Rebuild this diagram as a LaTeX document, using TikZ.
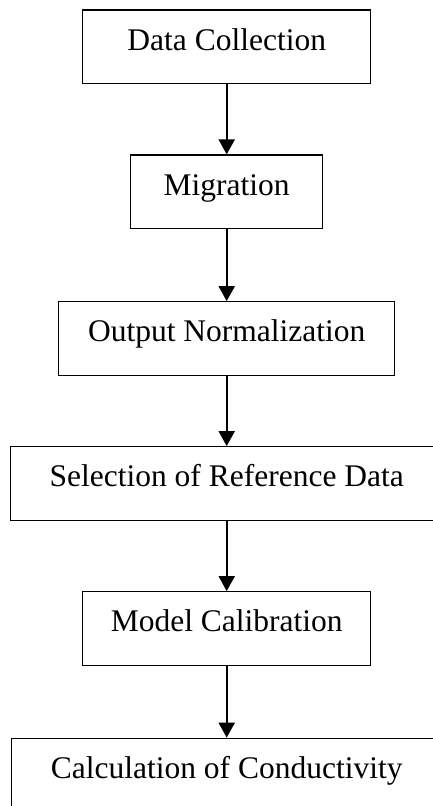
\documentclass[tikz,border=0pt]{standalone}
\usepackage{fontspec}
\setmainfont{Liberation Serif}
\usetikzlibrary{arrows.meta}
\begin{document}
\begin{tikzpicture}[x=1pt, y=-1pt,
    stepbox/.style={draw, line width=1.2pt, inner sep=0pt, text height=40pt, text depth=33.5pt,
        font=\fontsize{31.5}{36}\selectfont},
    flow/.style={-{Triangle[width=16pt,length=15pt]}, line width=2pt}]
            \useasboundingbox (0,0) rectangle (432,806);
            \foreach \name/\w/\y/\txt in {collect/288/46.75/Data Collection, migr/192/191.75/Migration, norm/336/338.45/Output Normalization, refdata/432/483.45/Selection of Reference Data, calib/288/628.45/Model Calibration, cond/431/775/Calculation of Conductivity}{
                \node[stepbox, minimum width=\w pt] (\name) at (226.7,\y) {\txt};
            }
            \foreach \a/\b in {collect/migr, migr/norm, norm/refdata, refdata/calib, calib/cond}{
                \draw[flow] (\a) -- (\b);
            }
            \end{tikzpicture}
\end{document}
